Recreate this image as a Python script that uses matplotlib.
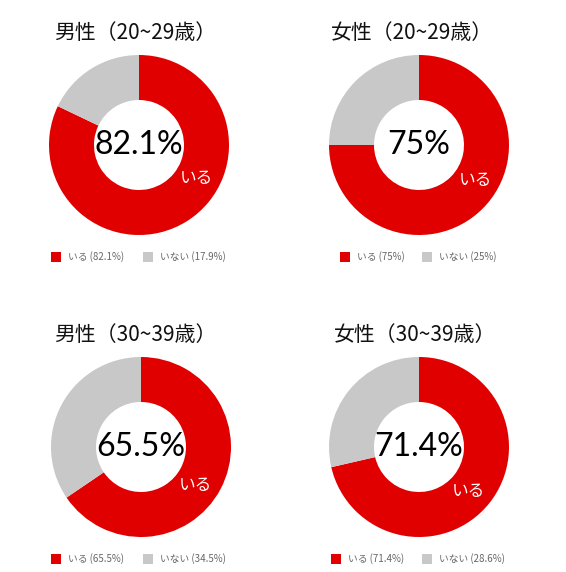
import numpy as np
import matplotlib
matplotlib.use("Agg")
import matplotlib.pyplot as plt
from matplotlib.patches import Rectangle

plt.rcParams['font.family'] = ['Noto Sans CJK JP', 'DejaVu Sans']

titles = ["男性（20~29歳）", "女性（20~29歳）", "男性（30~39歳）", "女性（30~39歳）"]
labels = ["いる", "いない"]
iru = [82.1, 75, 65.5, 71.4]
inai = [17.9, 25, 34.5, 28.6]
center_text = ["82.1%", "75%", "65.5%", "71.4%"]
legend_text = [["いる (82.1%)", "いない (17.9%)"],
               ["いる (75%)", "いない (25%)"],
               ["いる (65.5%)", "いない (34.5%)"],
               ["いる (71.4%)", "いない (28.6%)"]]

RED = "#e00000"
GRAY = "#c8c8c8"
W, H = 566, 572

fig = plt.figure(figsize=(W / 100, H / 100), dpi=100)

# pixel layout: pie centers, title pos, legend square x
centers = [(139, 145), (419, 145), (141, 447), (419, 447)]
title_x = [54, 331, 54, 334]
title_y = [33, 33, 335, 335]
legend_x = [(51, 143), (340, 422), (51, 143), (331, 422)]
legend_y = [257, 257, 559, 559]
label_ang = [-30, -32, -35, -42]
R = 90

for i in range(4):
    cx, cy = centers[i]
    ax = fig.add_axes([(cx - R) / W, 1 - (cy + R) / H, 2 * R / W, 2 * R / H])
    ax.pie([iru[i], inai[i]], colors=[RED, GRAY], startangle=90, counterclock=False,
           radius=1, wedgeprops=dict(width=0.5, linewidth=0))
    ax.set_xlim(-1, 1)
    ax.set_ylim(-1, 1)
    ax.set_aspect("equal")
    ax.axis("off")
    ax.text(0, 0, center_text[i], ha="center", va="center", fontsize=23,
            color="black", family=["Lato", "DejaVu Sans"])
    a = np.deg2rad(label_ang[i])
    ax.text(0.74 * np.cos(a), 0.74 * np.sin(a), labels[0], ha="center", va="center",
            fontsize=12, color="white")

    fig.text(title_x[i] / W, 1 - title_y[i] / H, titles[i], ha="left", va="center",
             fontsize=15, color="#111111")

    # legend
    ly = legend_y[i]
    for j, col in enumerate([RED, GRAY]):
        sx = legend_x[i][j]
        fig.patches.append(Rectangle((sx / W, 1 - (ly + 5) / H), 10 / W, 10 / H,
                                     transform=fig.transFigure, color=col, lw=0))
        fig.text((sx + 17) / W, 1 - ly / H, legend_text[i][j], ha="left", va="center",
                 fontsize=7, color="#666666")

fig.savefig("out.png", dpi=100, facecolor="white")
